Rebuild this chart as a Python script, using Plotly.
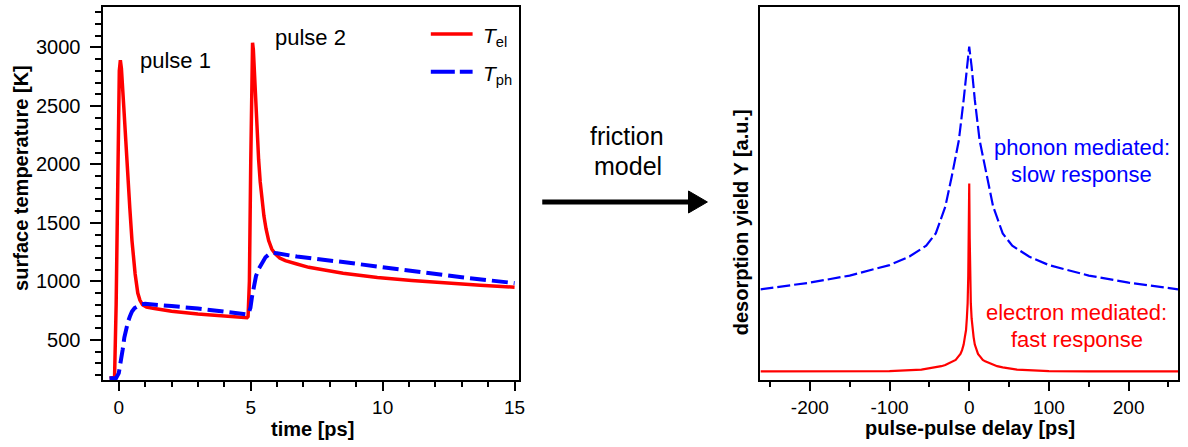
import plotly.graph_objects as go

# ---------------- data ----------------
# left panel: surface temperatures vs time
t_el = [-0.35, -0.20, -0.16, -0.10, -0.06, -0.02, 0.02, 0.06, 0.10, 0.19, 0.26, 0.34,
        0.42, 0.50, 0.56, 0.62, 0.72, 0.80, 0.90, 1.05, 1.35, 2.0, 3.0, 4.0, 4.6, 4.86,
        4.90, 4.95, 5.00, 5.04, 5.07, 5.10, 5.14, 5.18, 5.24, 5.30, 5.36, 5.43, 5.50,
        5.58, 5.68, 5.80, 5.93, 6.10, 6.31, 6.75, 7.2, 8.5, 9.8, 11.1, 12.4, 13.7, 15.0]
T_el = [172, 176, 180, 800, 1630, 2400, 2800, 2890, 2820, 2490, 2200, 1920,
        1620, 1349, 1190, 1063, 900, 840, 800, 780, 768, 745, 722, 705, 694, 690,
        700, 1000, 2000, 2800, 3040, 2980, 2780, 2577, 2290, 2040, 1850, 1680, 1560,
        1450, 1349, 1275, 1235, 1200, 1177, 1149, 1120, 1070, 1033, 1007, 985, 966, 950]

t_ph = [-0.35, -0.10, 0.00, 0.05, 0.10, 0.15, 0.21, 0.28, 0.35, 0.42, 0.50, 0.60,
        0.72, 0.85, 1.0, 1.3, 2.0, 3.0, 4.0, 4.6, 4.86, 4.93, 4.99, 5.05, 5.12, 5.20,
        5.30, 5.42, 5.56, 5.70, 5.85, 6.0, 6.75, 8.5, 11.1, 13.0, 15.0]
T_ph = [172, 174, 215, 270, 350, 420, 520, 600, 655, 700, 742, 772,
        792, 804, 808, 800, 789, 768, 744, 728, 718, 735, 775, 870, 978, 1045,
        1106, 1160, 1206, 1232, 1242, 1240, 1212, 1165, 1088, 1035, 985]

# right panel: desorption yield vs pulse-pulse delay (arbitrary units)
delay_ph = [-262, -200, -150, -100, -75, -54, -42, -30, -22, -13, -7, -3, 0,
            3, 7, 13, 22, 30, 42, 54, 75, 100, 150, 200, 262]
Y_ph = [24.3, 26.1, 28.0, 30.8, 33.1, 36.0, 39.3, 46.5, 54.5, 64.3, 75.1, 84.0, 89.4,
        84.0, 75.1, 64.3, 54.5, 46.5, 39.3, 36.0, 33.1, 30.8, 28.0, 26.1, 24.3]

delay_el = [-262, -150, -100, -60, -50, -42, -35, -30, -25, -20, -17, -14, -11, -9,
            -7, -5.5, -4, -3, -2, -1.2, -0.6, 0,
            0.6, 1.2, 2, 3, 4, 5.5, 7, 9, 11, 14, 17, 20, 25, 30, 35, 42, 50, 60,
            100, 150, 262]
Y_el = [2.3, 2.3, 2.4, 2.8, 3.1, 3.4, 3.7, 4.0, 4.5, 5.0, 5.4, 6.2, 7.0, 8.0,
        9.5, 11.5, 13.4, 16.5, 20.6, 28.0, 38.0, 52.7,
        38.0, 28.0, 20.6, 16.5, 13.4, 11.5, 9.5, 8.0, 7.0, 6.2, 5.4, 5.0, 4.5, 4.0, 3.7, 3.4, 3.1, 2.8,
        2.4, 2.3, 2.3]

delay_tickvals = [-200, -100, 0, 100, 200]
delay_ticktext = ["-200", "-100", "0", "100", "200"]

# ---------------- figure ----------------
W, H = 1188, 447
FONT = "Liberation Sans, Arial, sans-serif"
RED = "#ff0000"
BLUE = "#0000ff"


def px(x):
    return x / W


def py(y):
    return 1 - y / H


fig = go.Figure()
fig.add_trace(go.Scatter(x=t_el, y=T_el, mode="lines", name="T_el",
                         line=dict(color=RED, width=3.5), xaxis="x", yaxis="y"))
fig.add_trace(go.Scatter(x=t_ph, y=T_ph, mode="lines", name="T_ph",
                         line=dict(color=BLUE, width=4, dash="16px,6px"), xaxis="x", yaxis="y"))
fig.add_trace(go.Scatter(x=delay_ph, y=Y_ph, mode="lines", name="phonon",
                         line=dict(color=BLUE, width=2.2, dash="13px,4px"), xaxis="x2", yaxis="y2"))
fig.add_trace(go.Scatter(x=delay_el, y=Y_el, mode="lines", name="electron",
                         line=dict(color=RED, width=2.2), xaxis="x2", yaxis="y2"))

axis_common = dict(showgrid=False, zeroline=False, showline=True, linecolor="black",
                   linewidth=2, mirror=True, tickcolor="black", tickwidth=1.5)


def tf(size):
    return dict(family=FONT, size=size, color="black")


fig.update_layout(
    width=W, height=H, margin=dict(l=0, r=0, t=0, b=0),
    paper_bgcolor="white", plot_bgcolor="white", showlegend=False,
    font=dict(family=FONT, color="black"),
    xaxis=dict(axis_common, domain=[px(104), px(521.7)], range=[-0.58, 15.17], anchor="y",
               ticks="outside", ticklen=9, tickmode="linear", tick0=0, dtick=5, tickfont=tf(19),
               minor=dict(ticks="outside", ticklen=5, dtick=1, tick0=0, tickwidth=1.5, tickcolor="black")),
    yaxis=dict(axis_common, domain=[py(380), py(6.7)], range=[157, 3348], anchor="x",
               ticks="outside", ticklen=11, tickmode="linear", tick0=0, dtick=500, tickfont=tf(20),
               ticklabelstandoff=6,
               minor=dict(ticks="outside", ticklen=6, dtick=100, tick0=0, tickwidth=1.5, tickcolor="black")),
    xaxis2=dict(axis_common, domain=[px(764.3), px(1184)], range=[-262, 262], anchor="y2",
                ticks="outside", ticklen=9, tickmode="array", tickvals=delay_tickvals,
                ticktext=delay_ticktext, tickfont=tf(19),
                minor=dict(ticks="outside", ticklen=5, dtick=50, tick0=0, tickwidth=1.5, tickcolor="black")),
    yaxis2=dict(axis_common, domain=[py(380), py(7)], range=[0, 100], anchor="x2",
                ticks="", showticklabels=False),
)

ann = []


def text(x, y, s, size, color="black", bold=False, angle=0, xanchor="center"):
    if bold:
        s = "<b>" + s + "</b>"
    ann.append(dict(x=px(x), y=py(y), xref="paper", yref="paper", text=s, showarrow=False,
                    xanchor=xanchor, yanchor="middle", textangle=angle,
                    font=dict(family=FONT, size=size, color=color)))


# axis titles
text(314, 429, "time [ps]", 20, bold=True)
text(21, 178, "surface temperature [K]", 20, bold=True, angle=-90)
text(975, 428, "pulse-pulse delay [ps]", 20, bold=True)
text(745, 222, "desorption yield Y [a.u.]", 20, bold=True, angle=-90)

# in-plot labels
text(176, 60, "pulse 1", 22)
text(312, 38, "pulse 2", 22)
text(630, 136, "friction", 25)
text(631, 166, "model", 25)
text(1087, 147, "phonon mediated:", 22, color=BLUE)
text(1087, 174, "slow response", 22, color=BLUE)
text(1082, 312, "electron mediated:", 22, color=RED)
text(1082, 339, "fast response", 22, color=RED)

# legend text
text(483, 37, "<i>T</i><sub>el</sub>", 21, xanchor="left")
text(483, 75, "<i>T</i><sub>ph</sub>", 21, xanchor="left")

shapes = [
    # legend samples
    dict(type="line", xref="paper", yref="paper", x0=px(433), x1=px(475), y0=py(34), y1=py(34),
         line=dict(color=RED, width=3.5)),
    dict(type="line", xref="paper", yref="paper", x0=px(433), x1=px(475), y0=py(71.7), y1=py(71.7),
         line=dict(color=BLUE, width=4, dash="24px,5px")),
    # big arrow
    dict(type="line", xref="paper", yref="paper", x0=px(545), x1=px(695), y0=py(202), y1=py(202),
         line=dict(color="black", width=5)),
    dict(type="path", xref="paper", yref="paper",
         path="M {:.5f},{:.5f} L {:.5f},{:.5f} L {:.5f},{:.5f} Z".format(
             px(692), py(191), px(711), py(202), px(692), py(213)),
         fillcolor="black", line=dict(color="black", width=1)),
]

fig.update_layout(annotations=ann, shapes=shapes)
fig.write_html("out.html")
